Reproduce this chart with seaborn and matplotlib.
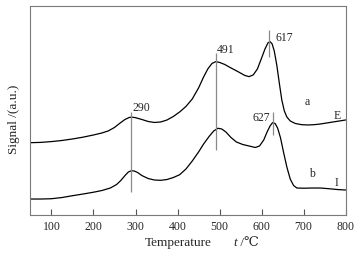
import matplotlib

matplotlib.use("Agg")
import matplotlib.pyplot as plt
import pandas as pd
import seaborn as sns

# curve a (upper trace)
temp_a = [50, 75, 100, 125, 150, 175, 200, 220, 235, 250, 262, 275, 285, 292, 300,
          315, 330, 345, 360, 375, 390, 405, 420, 435, 450, 462, 472, 482, 491, 500,
          512, 527, 545, 560, 570, 580, 590, 600, 608, 615, 620, 625, 630, 636, 642,
          648, 654, 660, 668, 680, 695, 710, 725, 740, 755, 770, 785, 800]
signal_a = [72.3, 72.6, 73.4, 74.5, 76, 77.8, 80, 82, 84, 87.5, 91.5, 95.5, 97.5, 97.8, 97.3,
            95.5, 93.5, 92.5, 93, 95, 98.5, 103, 108.5, 116, 127, 138, 146, 151.5, 153.3, 152.5,
            150.5, 147, 143, 139.5, 138.3, 140, 146, 157, 166, 172, 173.3, 171, 164, 150, 132,
            115, 104, 98, 94, 91.5, 90.3, 90, 90.3, 91, 92, 93, 94, 95]

# curve b (lower trace)
temp_b = [50, 75, 100, 125, 150, 175, 200, 220, 240, 255, 265, 275, 283, 290, 297,
          305, 315, 330, 345, 360, 375, 390, 405, 420, 435, 450, 462, 475, 486, 496,
          505, 515, 527, 540, 555, 570, 585, 595, 605, 613, 620, 626, 632, 638, 645,
          652, 660, 668, 676, 684, 700, 720, 740, 760, 780, 800]
signal_b = [16, 16, 16.3, 17.5, 19.3, 21, 22.8, 24.5, 27, 30.5, 34.5, 39.5, 43, 44.3, 44,
            42.5, 39.5, 36.5, 35, 34.7, 35.5, 37.5, 40.3, 46, 54, 63, 71, 78.5, 84, 86.7,
            86, 83, 77.5, 73, 70.5, 69, 67.5, 69, 75, 83, 89, 92.3, 91.5, 87, 77,
            63, 48, 36, 29.5, 27, 26.8, 27, 27, 26.3, 25.5, 25]

# peak marker lines: position, lower end, upper end
peak_pos = [290, 491, 617, 627]
peak_low = [23.3, 65, 158, 80]
peak_high = [103, 162, 185, 103.3]

peak_labels = ["290", "491", "617", "627"]
xticks = [100, 200, 300, 400, 500, 600, 700, 800]

sns.set_style("ticks")
plt.rcParams["font.family"] = ["Liberation Serif", "DejaVu Serif", "Noto Sans CJK SC"]

frame = pd.concat([
    pd.DataFrame({"temp": temp_a, "signal": signal_a, "curve": "a"}),
    pd.DataFrame({"temp": temp_b, "signal": signal_b, "curve": "b"}),
])

fig = plt.figure(figsize=(3.62, 2.56), dpi=100)
ax = fig.add_axes([0.084, 0.160, 0.871, 0.817])

sns.lineplot(data=frame, x="temp", y="signal", units="curve", estimator=None,
             color="black", linewidth=0.9, sort=False, ax=ax)
ax.vlines(peak_pos, peak_low, peak_high, color="#8a8a8a", linewidth=0.9)

ax.set_xlim(50, 800)
ax.set_ylim(0, 209)
ax.set_xticks(xticks)
ax.set_yticks([])
ax.set_xlabel("")
ax.set_ylabel("")
ax.tick_params(axis="x", direction="in", length=4, width=0.8, color="#555555",
               labelsize=8.5, pad=4)
for spine in ax.spines.values():
    spine.set_color("#7a7a7a")
    spine.set_linewidth(0.8)

ax.text(293.7, 107, peak_labels[0], fontsize=8.5, va="center", ha="left")
ax.text(493.4, 165, peak_labels[1], fontsize=8.5, va="center", ha="left")
ax.text(633.7, 177, peak_labels[2], fontsize=8.5, va="center", ha="left")
ax.text(619.4, 97, peak_labels[3], fontsize=8.5, va="center", ha="right")
ax.text(709, 113, "a", fontsize=8.5, va="center", ha="center")
ax.text(781, 99, "E", fontsize=8.5, va="center", ha="center")
ax.text(718.6, 41, "b", fontsize=8.5, va="center", ha="center")
ax.text(778, 32, "I", fontsize=8.5, va="center", ha="center")

# axis titles
ax.text(0.363, -0.135, "Temperature", transform=ax.transAxes, fontsize=9.5,
        ha="left", va="center")
ax.text(0.645, -0.135, "t", transform=ax.transAxes, fontsize=9.5, style="italic",
        ha="left", va="center")
ax.text(0.655, -0.135, " /℃", transform=ax.transAxes, fontsize=9.5,
        ha="left", va="center")
ax.text(-0.052, 0.46, "Signal /(a.u.)", transform=ax.transAxes, fontsize=9.5,
        rotation=90, ha="center", va="center")

fig.savefig("out.png", dpi=100)
